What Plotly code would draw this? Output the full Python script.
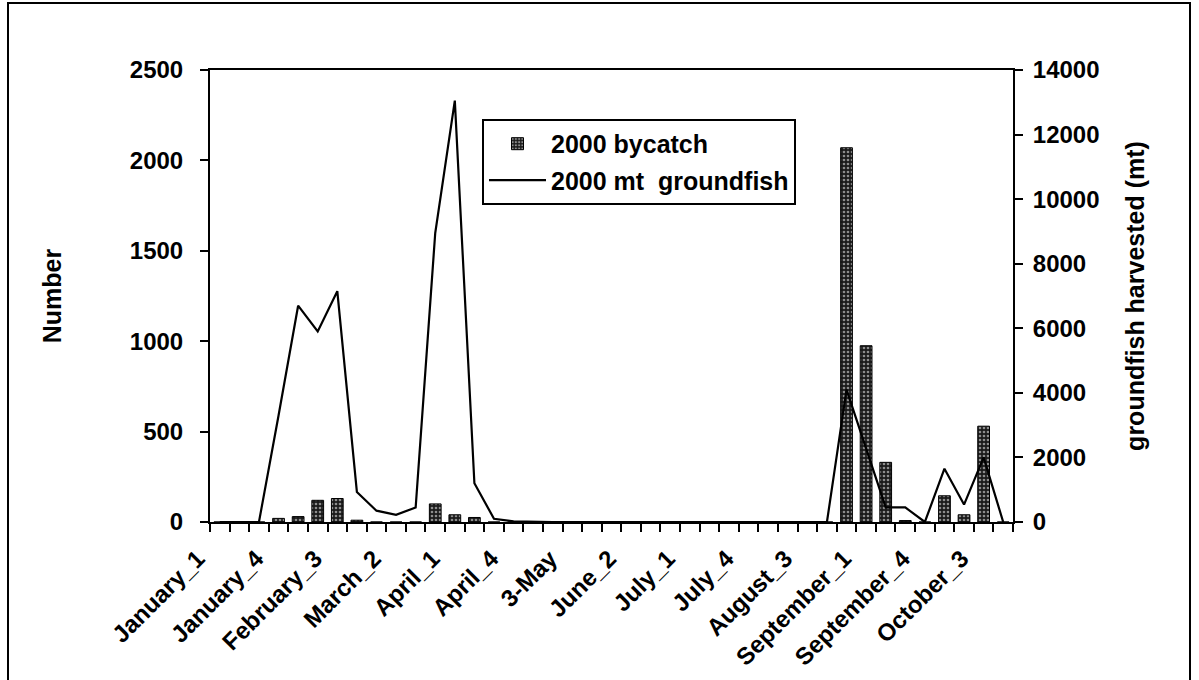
import plotly.graph_objects as go

# ---------------- data ----------------
categories = [
    "January_1", "January_2", "January_3", "January_4",
    "February_1", "February_2", "February_3", "February_4",
    "March_1", "March_2", "March_3", "March_4",
    "April_1", "April_2", "April_3", "April_4",
    "1-May", "2-May", "3-May", "4-May",
    "June_1", "June_2", "June_3", "June_4",
    "July_1", "July_2", "July_3", "July_4",
    "August_1", "August_2", "August_3", "August_4", "August_5",
    "September_1", "September_2", "September_3", "September_4",
    "October_1", "October_2", "October_3", "October_4",
]

tick_labels = [
    "January_1", "January_4", "February_3", "March_2", "April_1", "April_4",
    "3-May", "June_2", "July_1", "July_4", "August_3", "September_1",
    "September_4", "October_3",
]

bycatch_2000 = [
    0, 0, 0, 20,
    30, 120, 130, 10,
    0, 0, 0, 100,
    40, 25, 0, 0,
    0, 0, 0, 0,
    0, 0, 0, 0,
    0, 0, 0, 0,
    0, 0, 0, 0, 2070,
    975, 330, 8, 0,
    145, 40, 530, 0,
]

groundfish_mt_2000 = [
    0, 0, 0, 3300,
    6700, 5900, 7150, 930,
    350, 220, 450, 8950,
    13050, 1200, 100, 20,
    0, 0, 0, 0,
    0, 0, 0, 0,
    0, 0, 0, 0,
    0, 0, 0, 0, 4100,
    2300, 450, 450, 0,
    1650, 540, 2000, 0,
]

tick_text = [c if c in tick_labels else "" for c in categories]

FONT = "Liberation Sans, Arial, sans-serif"

fig = go.Figure()

fig.add_trace(go.Bar(
    x=categories, y=bycatch_2000, name="2000 bycatch", yaxis="y",
    legendgroup="a",
    marker=dict(
        color="#1a1a1a",
        line=dict(color="black", width=1),
        pattern=dict(shape=".", fgcolor="white", bgcolor="#1a1a1a",
                     size=4, solidity=0.35),
    ),
))

fig.add_trace(go.Scatter(
    x=categories, y=groundfish_mt_2000, name="2000 mt\u00a0 groundfish",
    yaxis="y2", mode="lines", line=dict(color="black", width=2.2),
    legendgroup="b",
))

PL, PR, PT, PB = 210, 1013, 70, 522.5
W, H = 1199, 680

fig.update_layout(
    width=W, height=H,
    margin=dict(l=PL, r=W - PR, t=PT, b=H - PB, autoexpand=False),
    paper_bgcolor="white", plot_bgcolor="white",
    font=dict(family=FONT, color="black", size=24),
    bargap=0.4,
    showlegend=True,
    legend=dict(
        x=(482 - PL) / (PR - PL), y=(PB - 119) / (PB - PT),
        xanchor="left", yanchor="top",
        bgcolor="white", bordercolor="black", borderwidth=2,
        font=dict(family=FONT, size=25, weight="bold"),
        traceorder="grouped", tracegroupgap=1, itemwidth=57,
    ),
    xaxis=dict(
        type="category",
        tickmode="array", tickvals=categories, ticktext=tick_text,
        tickangle=-45, ticks="outside", tickson="boundaries", ticklen=8,
        tickcolor="black", tickwidth=2,
        showline=True, linecolor="black", linewidth=2, mirror=True,
        showgrid=False, zeroline=False,
        ticklabelshift=-22, ticklabelstandoff=11,
        tickfont=dict(family=FONT, size=24, weight="bold"),
    ),
    yaxis=dict(
        range=[0, 2500], dtick=500, tick0=0,
        ticks="outside", ticklen=8, tickcolor="black", tickwidth=2,
        showline=True, linecolor="black", linewidth=2,
        showgrid=False, zeroline=False,
        ticklabelstandoff=12,
        tickfont=dict(family=FONT, size=24, weight="bold"),
        title=dict(text="Number", standoff=61,
                   font=dict(family=FONT, size=25, weight="bold")),
    ),
    yaxis2=dict(
        range=[0, 14000], dtick=2000, tick0=0, tickformat="d",
        overlaying="y", side="right",
        ticks="outside", ticklen=8, tickcolor="black", tickwidth=2,
        showline=True, linecolor="black", linewidth=2,
        showgrid=False, zeroline=False,
        ticklabelstandoff=5,
        tickfont=dict(family=FONT, size=24, weight="bold"),
        title=dict(text="groundfish harvested (mt)", standoff=28,
                   font=dict(family=FONT, size=25, weight="bold")),
    ),
    shapes=[
        dict(type="rect", xref="paper", yref="paper",
             x0=(8 - PL) / (PR - PL), x1=(1190 - PL) / (PR - PL),
             y0=(PB - 700) / (PB - PT), y1=(PB - 3) / (PB - PT),
             line=dict(color="black", width=2), fillcolor="rgba(0,0,0,0)",
             layer="below"),
    ],
)

fig.write_html(
    "out.html",
    config={"displayModeBar": False},
    post_script="document.body.style.margin='0';document.body.style.overflow='hidden';",
)
